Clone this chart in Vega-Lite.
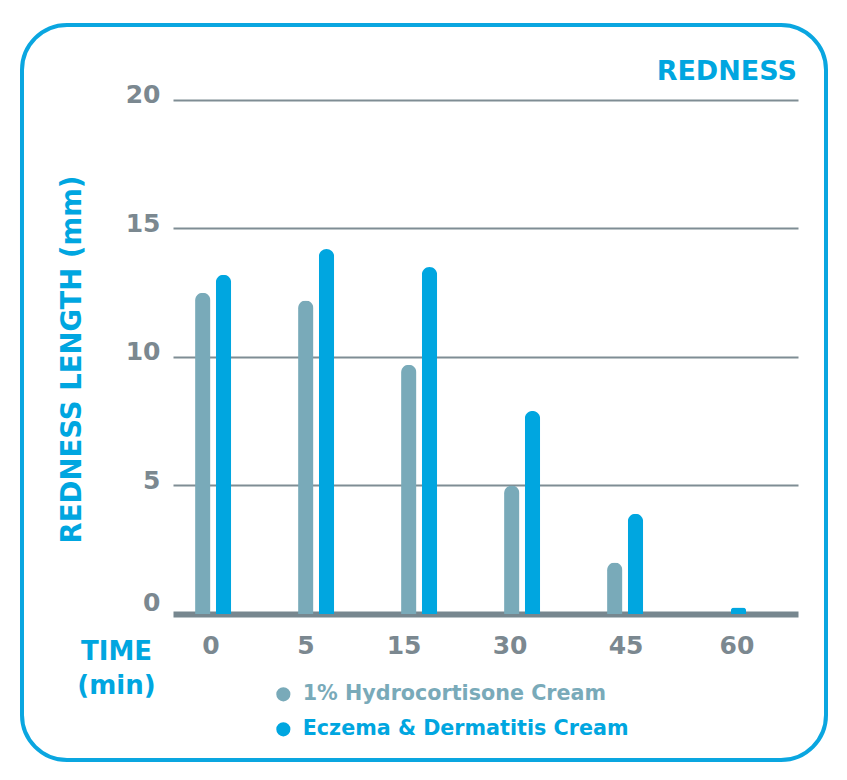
{
  "$schema": "https://vega.github.io/schema/vega-lite/v6.json",
  "width": 804,
  "height": 735,
  "autosize": "none",
  "padding": {"left": 22, "top": 25, "right": 21, "bottom": 20},
  "background": "white",
  "title": {
    "text": "REDNESS",
    "anchor": "end",
    "frame": "group",
    "font": "DejaVu Sans",
    "fontSize": 27,
    "fontWeight": "bold",
    "color": "#00a6e0",
    "baseline": "alphabetic",
    "offset": 0,
    "dy": 82,
    "dx": -29
  },
  "data": {
    "values": [
      {"time": "0", "series": "1% Hydrocortisone Cream", "value": 12.5},
      {"time": "0", "series": "Eczema & Dermatitis Cream", "value": 13.2},
      {"time": "5", "series": "1% Hydrocortisone Cream", "value": 12.2},
      {"time": "5", "series": "Eczema & Dermatitis Cream", "value": 14.2},
      {"time": "15", "series": "1% Hydrocortisone Cream", "value": 9.7},
      {"time": "15", "series": "Eczema & Dermatitis Cream", "value": 13.5},
      {"time": "30", "series": "1% Hydrocortisone Cream", "value": 5.0},
      {"time": "30", "series": "Eczema & Dermatitis Cream", "value": 7.9},
      {"time": "45", "series": "1% Hydrocortisone Cream", "value": 2.0},
      {"time": "45", "series": "Eczema & Dermatitis Cream", "value": 3.9},
      {"time": "60", "series": "1% Hydrocortisone Cream", "value": 0},
      {"time": "60", "series": "Eczema & Dermatitis Cream", "value": 0.25}
    ]
  },
  "mark": {
    "type": "bar",
    "width": {"band": 0.74},
    "cornerRadiusTopLeft": 7.75,
    "cornerRadiusTopRight": 7.75
  },
  "encoding": {
    "x": {
      "field": "time",
      "type": "ordinal",
      "sort": null,
      "scale": {"type": "band", "paddingInner": 0.194, "paddingOuter": 1, "align": 0.687},
      "axis": {
        "orient": "bottom",
        "offset": -146,
        "domain": false,
        "ticks": false,
        "labelAngle": 0,
        "labelPadding": 19,
        "labelFontSize": 25,
        "labelOffset": {
          "condition": [
            {"test": "datum.value === '0'", "value": 6},
            {"test": "datum.value === '5'", "value": -2},
            {"test": "datum.value === '15'", "value": -7},
            {"test": "datum.value === '30'", "value": -4},
            {"test": "datum.value === '45'", "value": 9},
            {"test": "datum.value === '60'", "value": 17}
          ],
          "value": 0
        },
        "title": ["TIME", "(min)"],
        "titleX": 94,
        "titleY": 45,
        "titleAlign": "center",
        "titleBaseline": "alphabetic",
        "titleLineHeight": 34,
        "titleFontSize": 26
      }
    },
    "xOffset": {
      "field": "series",
      "scale": {"domain": ["1% Hydrocortisone Cream", "Eczema & Dermatitis Cream"], "paddingInner": 0, "paddingOuter": 1}
    },
    "y": {
      "field": "value",
      "type": "quantitative",
      "scale": {"domain": [-5.681, 22.918], "nice": false, "zero": false},
      "axis": {
        "orient": "left",
        "offset": -151,
        "values": [0, 5, 10, 15, 20],
        "grid": false,
        "domain": false,
        "tickSize": -625,
        "tickWidth": {"condition": {"test": "datum.value === 0", "value": 6}, "value": 2},
        "tickColor": {"condition": {"test": "datum.value === 0", "value": "#77878f"}, "value": "#7f8d94"},
        "labelPadding": 638,
        "labelOffset": {"condition": {"test": "datum.value === 0", "value": -11}, "value": -5},
        "labelFontSize": 25,
        "title": "REDNESS LENGTH (mm)",
        "titleFontSize": 27.5,
        "titleX": -101,
        "titleY": 334,
        "titleAlign": "center",
        "titleBaseline": "middle",
        "titleAngle": -90
      }
    },
    "color": {
      "field": "series",
      "type": "nominal",
      "scale": {"domain": ["1% Hydrocortisone Cream", "Eczema & Dermatitis Cream"], "range": ["#79aab9", "#00a6e0"]},
      "legend": {
        "title": null,
        "orient": "none",
        "legendX": 251,
        "legendY": 659,
        "direction": "vertical",
        "padding": 0,
        "symbolType": "circle",
        "symbolSize": 200,
        "symbolStrokeWidth": 0,
        "symbolOpacity": 1,
        "labelFont": "DejaVu Sans",
        "labelFontSize": 20.7,
        "labelFontWeight": "bold",
        "labelOffset": 9,
        "rowPadding": 13,
        "labelLimit": 400,
        "encode": {
          "labels": {"update": {"fill": {"scale": "color", "field": "value"}}}
        }
      }
    }
  },
  "config": {
    "view": {"stroke": "#0aa6e0", "strokeWidth": 4, "cornerRadius": 45, "fill": "white"},
    "axis": {
      "labelFont": "DejaVu Sans",
      "labelFontWeight": "bold",
      "labelColor": "#7b8890",
      "titleFont": "DejaVu Sans",
      "titleFontWeight": "bold",
      "titleColor": "#00a6e0"
    }
  }
}
